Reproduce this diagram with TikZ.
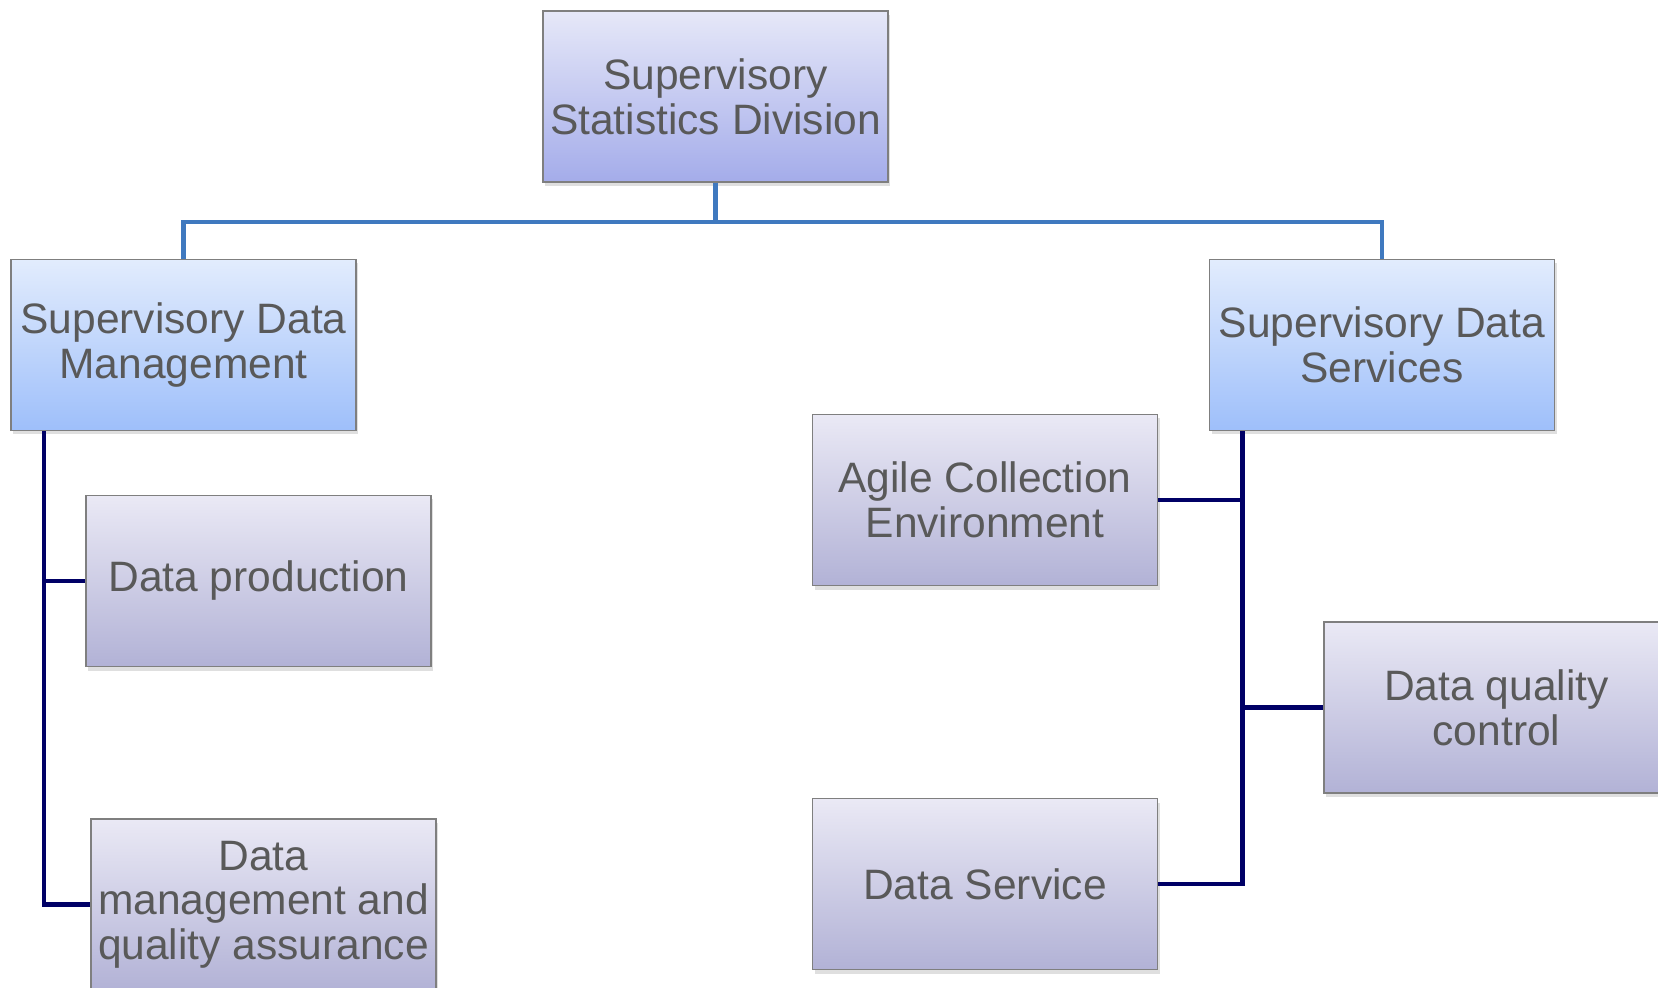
\documentclass[tikz,border=0pt]{standalone}
\usepackage{fontspec}
\setmainfont{Liberation Sans}
\usetikzlibrary{shadows}
\definecolor{txt}{HTML}{595959}
\definecolor{bordc}{HTML}{7F7F7F}
\definecolor{toptop}{HTML}{E6E8F8}
\definecolor{topbot}{HTML}{A4ACEA}
\definecolor{bluetop}{HTML}{E2ECFD}
\definecolor{bluebot}{HTML}{9EBFFA}
\definecolor{graytop}{HTML}{EAE9F5}
\definecolor{graybot}{HTML}{B2B2D6}
\definecolor{linkblue}{HTML}{3F79BF}
\definecolor{navy}{HTML}{000066}
\tikzset{
  box/.style={rectangle, draw=bordc, line width=0.5pt, minimum width=3.45cm, minimum height=1.71cm,
    inner sep=0pt, align=center, text=txt, font=\fontsize{12.1}{12.7}\selectfont,
    drop shadow={shadow xshift=0.02cm, shadow yshift=-0.04cm, opacity=0.25}},
  topbox/.style={box, top color=toptop, bottom color=topbot},
  bluebox/.style={box, top color=bluetop, bottom color=bluebot},
  graybox/.style={box, top color=graytop, bottom color=graybot},
  bluelink/.style={draw=linkblue, line width=1.15pt},
  navylink/.style={draw=navy, line width=1.3pt}
}
\begin{document}
\begin{tikzpicture}
\useasboundingbox (0,0) rectangle (16.58,-9.88);
\clip (0,0) rectangle (16.58,-9.88);
\node[topbox] (top) at (7.155,-0.965) {Supervisory\\Statistics Division};
\node[bluebox] (sdm) at (1.835,-3.45) {Supervisory Data\\Management};
\node[bluebox] (sds) at (13.82,-3.45) {Supervisory Data\\Services};
\node[graybox] (dp) at (2.585,-5.81) {Data production};
\node[graybox] (dmqa) at (2.635,-9.045) {Data\\management and\\quality assurance};
\node[graybox] (agile) at (9.85,-5.00) {Agile Collection\\Environment};
\node[graybox] (dqc) at (14.965,-7.075) {Data quality\\control};
\node[graybox] (ds) at (9.85,-8.84) {Data Service};
\draw[bluelink] (top.south) -- ++(0,-0.39) -| (sdm.north);
\draw[bluelink] (top.south) -- ++(0,-0.39) -| (sds.north);
\draw[navylink] ([xshift=0.34cm]sdm.south west) |- (dp.west);
\draw[navylink] ([xshift=0.34cm]sdm.south west) |- (dmqa.west);
\draw[navylink] ([xshift=0.34cm]sds.south west) |- (agile.east);
\draw[navylink] ([xshift=0.34cm]sds.south west) |- (dqc.west);
\draw[navylink] ([xshift=0.34cm]sds.south west) |- (ds.east);
\end{tikzpicture}
\end{document}
